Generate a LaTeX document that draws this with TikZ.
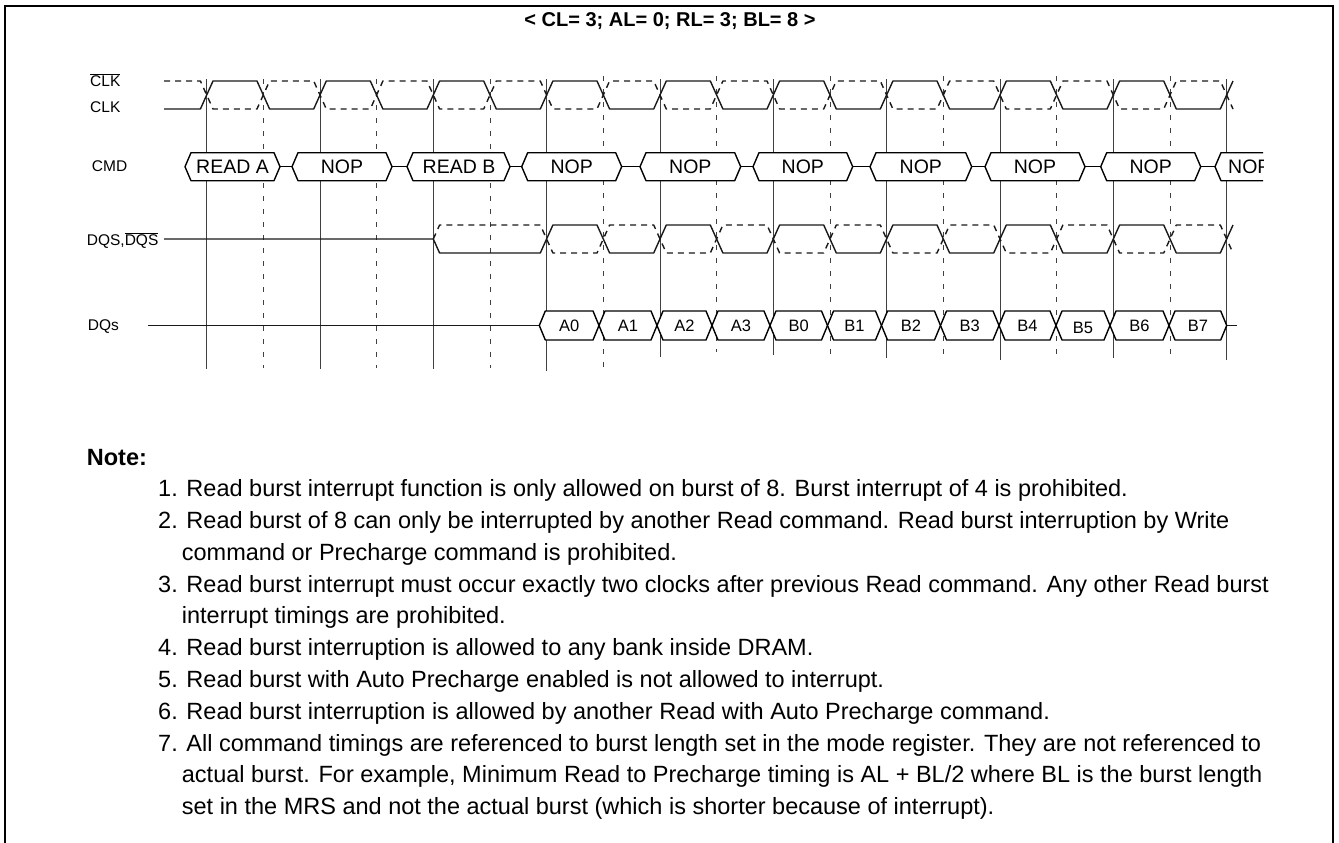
\documentclass[tikz,border=0pt]{standalone}
\usepackage{amsmath}
\usepackage{fontspec}
\setmainfont{Liberation Sans}
\usepackage{tikz}
\usetikzlibrary{positioning}

\begin{document}
\begin{tikzpicture}[x=1pt,y=1pt]
            \tikzstyle{every node}+=[inner sep=0pt]
            \tikzstyle{wave}=[black!90, line width=1.4pt, line join=round]
            \tikzstyle{wavedash}=[wave, dash pattern=on 6pt off 5pt]
            \tikzstyle{grid}=[black!75, line width=0.9pt]
            \tikzstyle{griddash}=[grid, dash pattern=on 5pt off 8pt]
            \tikzstyle{bus}=[black, line width=1.4pt, fill=white, line join=round]
            \tikzstyle{lbl}=[anchor=base west, font=\fontsize{15.5}{18}\selectfont]
            \tikzstyle{cmdtxt}=[anchor=base, font=\fontsize{19.5}{22}\selectfont]
            \tikzstyle{dqtxt}=[anchor=base, font=\fontsize{16.5}{19}\selectfont]
            \tikzstyle{notetxt}=[anchor=base west, font=\fontsize{23.5}{28}\selectfont]
            \useasboundingbox (0,0) rectangle (1339,-843);
            % frame and title
            \draw [black, line width=1.8pt] (5,-843) -- (5,-6) -- (1333,-6) -- (1333,-843);
            \draw (670,-27) node [anchor=base, font=\fontsize{20}{24}\selectfont\bfseries] (title) {< CL= 3; AL= 0; RL= 3; BL= 8 >};
            % signal names
            \draw (90,-87) node [lbl] (clkbarname) {$\overline{\text{CLK}}$};
            \draw (90,-113) node [lbl] (clkname) {CLK};
            \draw (91.7,-171) node [lbl] (cmdname) {CMD};
            \draw (86.7,-245.7) node [lbl] (dqsname) {DQS,$\overline{\text{DQS}}$};
            \draw (87.7,-330.7) node [lbl] (dqname) {DQs};
            % clock grid
            \draw [grid] (206.7,-79) -- (206.7,-369);
            \draw [grid] (320,-79) -- (320,-369);
            \draw [grid] (433.3,-79) -- (433.3,-369);
            \draw [grid] (546.6,-79) -- (546.6,-371);
            \draw [grid] (660,-79) -- (660,-357);
            \draw [grid] (773.3,-79) -- (773.3,-355);
            \draw [grid] (886.6,-79) -- (886.6,-358);
            \draw [grid] (1000,-79) -- (1000,-360);
            \draw [grid] (1113.3,-79) -- (1113.3,-358);
            \draw [grid] (1226.6,-79) -- (1226.6,-360);
            \draw [griddash] (263.3,-79) -- (263.3,-368);
            \draw [griddash] (376.6,-79) -- (376.6,-368);
            \draw [griddash] (490,-79) -- (490,-368);
            \draw [griddash] (603.3,-76) -- (603.3,-368);
            \draw [griddash] (716.6,-76) -- (716.6,-352);
            \draw [griddash] (830,-76) -- (830,-355);
            \draw [griddash] (943.3,-76) -- (943.3,-355);
            \draw [griddash] (1056.6,-76) -- (1056.6,-355);
            \draw [griddash] (1170,-76) -- (1170,-355);
            % CLK and CLK#
            \draw [wave] (164,-109) -- (200.4,-109) -- (213,-81) -- (257,-81) -- (269.6,-109) -- (313.7,-109) -- (326.3,-81) -- (370.3,-81) -- (382.9,-109) -- (427,-109) -- (439.6,-81) -- (483.7,-81) -- (496.3,-109) -- (540.3,-109) -- (552.9,-81) -- (597,-81) -- (609.6,-109) -- (653.7,-109) -- (666.3,-81) -- (710.3,-81) -- (722.9,-109) -- (767,-109) -- (779.6,-81) -- (823.7,-81) -- (836.3,-109) -- (880.3,-109) -- (892.9,-81) -- (937,-81) -- (949.6,-109) -- (993.7,-109) -- (1006.3,-81) -- (1050.3,-81) -- (1062.9,-109) -- (1107,-109) -- (1119.6,-81) -- (1163.7,-81) -- (1176.3,-109) -- (1220.3,-109) -- (1233,-81);
            \draw [wavedash] (164,-81) -- (200.4,-81) -- (213,-109) -- (257,-109) -- (269.6,-81) -- (313.7,-81) -- (326.3,-109) -- (370.3,-109) -- (382.9,-81) -- (427,-81) -- (439.6,-109) -- (483.7,-109) -- (496.3,-81) -- (540.3,-81) -- (552.9,-109) -- (597,-109) -- (609.6,-81) -- (653.7,-81) -- (666.3,-109) -- (710.3,-109) -- (722.9,-81) -- (767,-81) -- (779.6,-109) -- (823.7,-109) -- (836.3,-81) -- (880.3,-81) -- (892.9,-109) -- (937,-109) -- (949.6,-81) -- (993.7,-81) -- (1006.3,-109) -- (1050.3,-109) -- (1062.9,-81) -- (1107,-81) -- (1119.6,-109) -- (1163.7,-109) -- (1176.3,-81) -- (1220.3,-81) -- (1233,-109);
            % CMD
            \draw [bus] (185,-166.7) -- (191,-152.7) -- (274,-152.7) -- (280,-166.7) -- (274,-180.7) -- (191,-180.7) -- cycle;
            \draw (232.5,-173.3) node [cmdtxt] (reada) {READ A};
            \draw [bus] (280,-166.7) -- (292,-166.7);
            \draw [bus] (292,-166.7) -- (298,-152.7) -- (386,-152.7) -- (392,-166.7) -- (386,-180.7) -- (298,-180.7) -- cycle;
            \draw (342,-173.3) node [cmdtxt] (nop1) {NOP};
            \draw [bus] (392,-166.7) -- (407,-166.7);
            \draw [bus] (407,-166.7) -- (413,-152.7) -- (504,-152.7) -- (510,-166.7) -- (504,-180.7) -- (413,-180.7) -- cycle;
            \draw (459,-173.3) node [cmdtxt] (readb) {READ B};
            \draw [bus] (510,-166.7) -- (521.7,-166.7);
            \draw [bus] (521.7,-166.7) -- (527.7,-152.7) -- (615.7,-152.7) -- (621.7,-166.7) -- (615.7,-180.7) -- (527.7,-180.7) -- cycle;
            \draw (571.7,-173.3) node [cmdtxt] (nop2) {NOP};
            \draw [bus] (621.7,-166.7) -- (640,-166.7);
            \draw [bus] (640,-166.7) -- (646,-152.7) -- (734.7,-152.7) -- (740.7,-166.7) -- (734.7,-180.7) -- (646,-180.7) -- cycle;
            \draw (690.3,-173.3) node [cmdtxt] (nop3) {NOP};
            \draw [bus] (740.7,-166.7) -- (753,-166.7);
            \draw [bus] (753,-166.7) -- (759,-152.7) -- (846.7,-152.7) -- (852.7,-166.7) -- (846.7,-180.7) -- (759,-180.7) -- cycle;
            \draw (802.8,-173.3) node [cmdtxt] (nop4) {NOP};
            \draw [bus] (852.7,-166.7) -- (870,-166.7);
            \draw [bus] (870,-166.7) -- (876,-152.7) -- (965.7,-152.7) -- (971.7,-166.7) -- (965.7,-180.7) -- (876,-180.7) -- cycle;
            \draw (920.8,-173.3) node [cmdtxt] (nop5) {NOP};
            \draw [bus] (971.7,-166.7) -- (985,-166.7);
            \draw [bus] (985,-166.7) -- (991,-152.7) -- (1079,-152.7) -- (1085,-166.7) -- (1079,-180.7) -- (991,-180.7) -- cycle;
            \draw (1035,-173.3) node [cmdtxt] (nop6) {NOP};
            \draw [bus] (1085,-166.7) -- (1100.7,-166.7);
            \draw [bus] (1100.7,-166.7) -- (1106.7,-152.7) -- (1194.7,-152.7) -- (1200.7,-166.7) -- (1194.7,-180.7) -- (1106.7,-180.7) -- cycle;
            \draw (1150.7,-173.3) node [cmdtxt] (nop7) {NOP};
            \draw [bus] (1200.7,-166.7) -- (1215,-166.7);
            \begin{scope}
            \clip (1205,-140) rectangle (1263,-195);
            \draw [bus] (1215,-166.7) -- (1221,-152.7) -- (1320,-152.7) -- (1320,-180.7) -- (1221,-180.7) -- cycle;
            \draw (1228,-173.3) node [cmdtxt, anchor=base west] (nop8) {NOP};
            \end{scope}
            % DQS and DQS#
            \draw [wave] (164,-239) -- (433.3,-239) -- (439.6,-253) -- (540.3,-253) -- (552.9,-225) -- (597,-225) -- (609.6,-253) -- (653.7,-253) -- (666.3,-225) -- (710.3,-225) -- (722.9,-253) -- (767,-253) -- (779.6,-225) -- (823.7,-225) -- (836.3,-253) -- (880.3,-253) -- (892.9,-225) -- (937,-225) -- (949.6,-253) -- (993.7,-253) -- (1006.3,-225) -- (1050.3,-225) -- (1062.9,-253) -- (1107,-253) -- (1119.6,-225) -- (1163.7,-225) -- (1176.3,-253) -- (1220.3,-253) -- (1233,-225);
            \draw [wavedash] (433.3,-239) -- (439.6,-225) -- (540.3,-225) -- (552.9,-253) -- (597,-253) -- (609.6,-225) -- (653.7,-225) -- (666.3,-253) -- (710.3,-253) -- (722.9,-225) -- (767,-225) -- (779.6,-253) -- (823.7,-253) -- (836.3,-225) -- (880.3,-225) -- (892.9,-253) -- (937,-253) -- (949.6,-225) -- (993.7,-225) -- (1006.3,-253) -- (1050.3,-253) -- (1062.9,-225) -- (1107,-225) -- (1119.6,-253) -- (1163.7,-253) -- (1176.3,-225) -- (1220.3,-225) -- (1233,-253);
            % DQ
            \draw [wave] (148,-325.5) -- (539.3,-325.5);
            \draw [bus] (539.3,-325.5) -- (545.3,-311) -- (593,-311) -- (599,-325.5) -- (593,-340) -- (545.3,-340) -- cycle;
            \draw (569.2,-331.5) node [dqtxt] (a0) {A0};
            \draw [bus] (599,-325.5) -- (605,-311) -- (651,-311) -- (657,-325.5) -- (651,-340) -- (605,-340) -- cycle;
            \draw (628,-331.5) node [dqtxt] (a1) {A1};
            \draw [bus] (657,-325.5) -- (663,-311) -- (706,-311) -- (712,-325.5) -- (706,-340) -- (663,-340) -- cycle;
            \draw (684.5,-331.5) node [dqtxt] (a2) {A2};
            \draw [bus] (712,-325.5) -- (718,-311) -- (764,-311) -- (770,-325.5) -- (764,-340) -- (718,-340) -- cycle;
            \draw (741,-331.5) node [dqtxt] (a3) {A3};
            \draw [bus] (770,-325.5) -- (776,-311) -- (821.5,-311) -- (827.5,-325.5) -- (821.5,-340) -- (776,-340) -- cycle;
            \draw (798.8,-331.5) node [dqtxt] (b0) {B0};
            \draw [bus] (827.5,-325.5) -- (833.5,-311) -- (875.5,-311) -- (881.5,-325.5) -- (875.5,-340) -- (833.5,-340) -- cycle;
            \draw (854.5,-331.5) node [dqtxt] (b1) {B1};
            \draw [bus] (881.5,-325.5) -- (887.5,-311) -- (934.5,-311) -- (940.5,-325.5) -- (934.5,-340) -- (887.5,-340) -- cycle;
            \draw (911,-331.5) node [dqtxt] (b2) {B2};
            \draw [bus] (940.5,-325.5) -- (946.5,-311) -- (993,-311) -- (999,-325.5) -- (993,-340) -- (946.5,-340) -- cycle;
            \draw (969.8,-331.5) node [dqtxt] (b3) {B3};
            \draw [bus] (999,-325.5) -- (1005,-311) -- (1050,-311) -- (1056,-325.5) -- (1050,-340) -- (1005,-340) -- cycle;
            \draw (1027.5,-331.5) node [dqtxt] (b4) {B4};
            \draw [bus] (1056,-325.5) -- (1062,-311) -- (1104,-311) -- (1110,-325.5) -- (1104,-340) -- (1062,-340) -- cycle;
            \draw (1083,-333) node [dqtxt] (b5) {B5};
            \draw [bus] (1110,-325.5) -- (1116,-311) -- (1163,-311) -- (1169,-325.5) -- (1163,-340) -- (1116,-340) -- cycle;
            \draw (1139.5,-331.5) node [dqtxt] (b6) {B6};
            \draw [bus] (1169,-325.5) -- (1175,-311) -- (1220.7,-311) -- (1226.7,-325.5) -- (1220.7,-340) -- (1175,-340) -- cycle;
            \draw (1197.9,-331.5) node [dqtxt] (b7) {B7};
            \draw [wave] (1226.7,-325.5) -- (1237,-325.5);
            % notes
            \draw (86.7,-465) node [notetxt, font=\fontsize{23.5}{28}\selectfont\bfseries] (note) {Note:};
            \draw (158,-496.7) node [notetxt] (n1) {1. Read burst interrupt function is only allowed on burst of 8. Burst interrupt of 4 is prohibited.};
            \draw (158,-528.5) node [notetxt] (n2) {2. Read burst of 8 can only be interrupted by another Read command. Read burst interruption by Write};
            \draw (181.7,-560.3) node [notetxt] (n2b) {command or Precharge command is prohibited.};
            \draw (158,-592.1) node [notetxt] (n3) {3. Read burst interrupt must occur exactly two clocks after previous Read command. Any other Read burst};
            \draw (181.7,-623.9) node [notetxt] (n3b) {interrupt timings are prohibited.};
            \draw (158,-655.7) node [notetxt] (n4) {4. Read burst interruption is allowed to any bank inside DRAM.};
            \draw (158,-687.5) node [notetxt] (n5) {5. Read burst with Auto Precharge enabled is not allowed to interrupt.};
            \draw (158,-719.3) node [notetxt] (n6) {6. Read burst interruption is allowed by another Read with Auto Precharge command.};
            \draw (158,-751.1) node [notetxt] (n7) {7. All command timings are referenced to burst length set in the mode register. They are not referenced to};
            \draw (181.7,-782.9) node [notetxt] (n7b) {actual burst. For example, Minimum Read to Precharge timing is AL + BL/2 where BL is the burst length};
            \draw (181.7,-814.7) node [notetxt] (n7c) {set in the MRS and not the actual burst (which is shorter because of interrupt).};
\end{tikzpicture}
\end{document}
